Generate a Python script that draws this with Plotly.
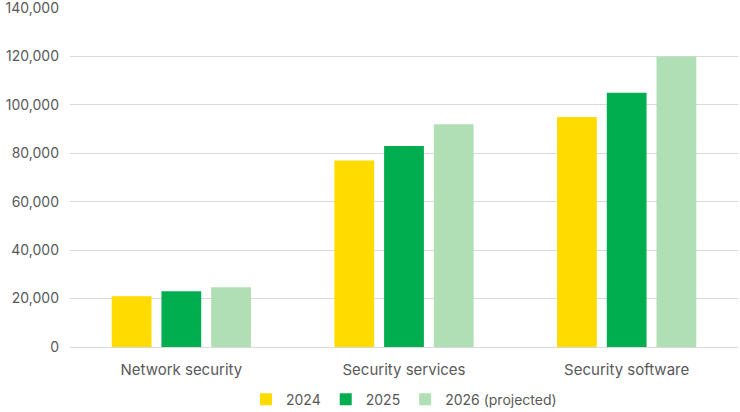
import plotly.graph_objects as go

categories = ["Network security", "Security services", "Security software"]
series_names = ["2024", "2025", "2026 (projected)"]
values_2024 = [21000, 77000, 95000]
values_2025 = [23000, 83000, 105000]
values_2026 = [24700, 92000, 120000]
colors = ["#FFDB00", "#00AE50", "#B0DFB5"]

fig = go.Figure()
for name, vals, col in zip(series_names, [values_2024, values_2025, values_2026], colors):
    fig.add_trace(go.Bar(name=name, x=categories, y=vals, marker_color=col, marker_line_width=0))

fig.update_layout(
    width=740, height=412,
    margin=dict(l=70, r=2, t=8, b=65, autoexpand=False),
    plot_bgcolor="white", paper_bgcolor="white",
    barmode="group", bargap=0.33, bargroupgap=0.2,
    font=dict(family="Inter, Noto Sans, sans-serif", size=14, color="#595959"),
    legend=dict(orientation="h", x=0.5, xanchor="center", y=-0.155, yanchor="middle",
                font=dict(size=14, color="#595959"), itemwidth=30, traceorder="normal"),
    yaxis=dict(range=[0, 140000], dtick=20000,
               tickformat=",", gridcolor="#D9D9D9", ticklabeloverflow="allow",
               gridwidth=1, zeroline=True, zerolinecolor="#D9D9D9", zerolinewidth=1,
               ticks="", ticklabelstandoff=10, showline=False, tickfont=dict(size=14)),
    xaxis=dict(showline=False, ticks="", ticklabelstandoff=12, tickfont=dict(size=15)),
)
fig.write_html("out.html")
